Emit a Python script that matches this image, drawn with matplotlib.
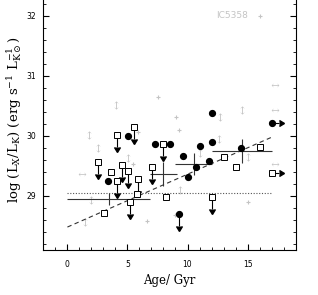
import matplotlib
matplotlib.use('Agg')
import matplotlib.pyplot as plt
import numpy as np

plt.rcParams['mathtext.fontset'] = 'dejavuserif'

# detections (filled circles)
det_age = [5.04, 7.29, 8.54, 11.04, 12.04, 12.04, 9.63, 10.04, 10.71, 11.79, 3.38, 14.46]
det_lx = [30.0, 29.87, 29.87, 29.83, 30.38, 29.9, 29.67, 29.32, 29.48, 29.58, 29.25, 29.8]
# detections that are limits
det_age_lim_age = [17.04]
det_lx_lim_age = [30.22]
det_age_uplim = [9.29]
det_lx_uplim = [28.7]

# open squares, upper limits in Lx
sq_up_age = [5.54, 4.13, 2.54, 4.54, 5.04, 4.13, 5.88, 7.04, 7.96, 5.21, 12.04]
sq_up_lx = [30.15, 30.02, 29.57, 29.52, 29.42, 29.25, 29.28, 29.48, 29.87, 28.9, 28.98]
# open squares, no limit
sq_age = [3.63, 5.79, 3.04, 8.21, 13.04, 14.04, 16.04]
sq_lx = [29.4, 29.03, 28.72, 28.98, 29.65, 29.48, 29.82]
# open square with age lower limit
sq_agelim_age = [17.04]
sq_agelim_lx = [29.38]

# grey comparison sample
grey_ud_age = [4.04, 1.79, 2.54, 5.04, 11.04, 12.71, 14.54, 12.63, 9.38, 15.04, 1.96, 1.46]
grey_ud_lx = [30.52, 30.02, 29.8, 29.63, 29.72, 30.32, 30.43, 29.95, 29.1, 29.65, 28.93, 28.57]
grey_lr_age = [17.29, 17.29, 17.29, 1.21]
grey_lr_lx = [30.85, 30.43, 29.53, 29.37]
grey_pt_age = [7.54, 5.88, 9.04, 9.29, 6.63, 8.96, 15.04, 16.04, 5.46]
grey_pt_lx = [30.65, 30.07, 30.32, 30.1, 28.58, 28.68, 28.9, 32.0, 29.53]

# binned means
bin_age = [3.45, 8.0, 10.5, 14.5]
bin_lx = [28.95, 29.37, 29.53, 29.75]
bin_age_err = [3.45, 1.1, 1.5, 2.5]
bin_lx_err = [0.1, 0.2, 0.18, 0.2]

# fits
fit_slope = 0.088
fit_icpt = 28.48
flat_level = 29.05
fit_range = [0, 17]

grey = '#c4c4c4'

fig = plt.figure(figsize=(3.18, 2.95), dpi=100)
ax = fig.add_axes([0.135, 0.153, 0.796, 0.881])

# grey sample
ax.scatter(grey_ud_age, grey_ud_lx, marker=r'$\updownarrow$', s=35, color=grey, linewidths=0)
ax.scatter(grey_lr_age, grey_lr_lx, marker=r'$\leftrightarrow$', s=30, color=grey, linewidths=0)
ax.scatter(grey_pt_age, grey_pt_lx, marker='+', s=8, color=grey, linewidths=0.8)
ax.text(15.0, 32.0, 'IC5358', color=grey, fontsize=6.5, ha='right', va='center')

# fit lines
xf = np.array(fit_range)
ax.plot(xf, fit_icpt + fit_slope * xf, ls=(0, (4, 3)), color='#333333', lw=0.8)
ax.plot(xf, [flat_level, flat_level], ls=(0, (1, 1.5)), color='#555555', lw=0.8)

# binned means
ax.errorbar(bin_age, bin_lx, xerr=bin_age_err, yerr=bin_lx_err, fmt='none',
            ecolor='#333333', elinewidth=0.8, capsize=0)

# limit arrows
arrow_kw = dict(fmt='none', ecolor='black', color='black', elinewidth=0.8, capsize=2.5)
ax.errorbar(sq_up_age + det_age_uplim, sq_up_lx + det_lx_uplim, yerr=0.2, uplims=True, **arrow_kw)
ax.errorbar(sq_agelim_age + det_age_lim_age, sq_agelim_lx + det_lx_lim_age, xerr=0.6,
            xlolims=True, **arrow_kw)
for line in ax.lines:
    line.set_color(line.get_color() if line.get_linestyle() != 'None' else 'black')

# squares
ax.plot(sq_up_age + sq_age + sq_agelim_age, sq_up_lx + sq_lx + sq_agelim_lx, 's',
        ms=5, mfc='white', mec='black', mew=0.7)
# detections
ax.plot(det_age + det_age_lim_age + det_age_uplim, det_lx + det_lx_lim_age + det_lx_uplim, 'o',
        ms=4.2, color='black')

ax.set_xlim(-2.04, 19.04)
ax.set_ylim(28.1, 32.43)
ax.set_xticks([0, 5, 10, 15])
ax.set_yticks([29, 30, 31, 32])
ax.set_xticks(np.arange(-2, 20, 1), minor=True)
ax.set_yticks(np.arange(28.2, 32.4, 0.2), minor=True)
ax.tick_params(which='both', direction='in', right=True, top=False, labelsize=5.5)
ax.tick_params(which='major', length=4, width=0.8)
ax.tick_params(which='minor', length=2, width=0.6)
ax.tick_params(axis='x', pad=7)
ax.tick_params(axis='y', pad=5)
ax.spines['top'].set_visible(False)

ax.set_xlabel('Age/ Gyr', family='DejaVu Serif', fontsize=8.5, labelpad=4)
ax.set_ylabel(r'log (L$_{\rm X}$/L$_{\rm K}$) (erg s$^{-1}$ L$_{\rm K\odot}^{-1}$)',
              family='DejaVu Serif', fontsize=9.5)
ax.yaxis.set_label_coords(-0.075, 0.5)

fig.savefig('out.png', dpi=100)
